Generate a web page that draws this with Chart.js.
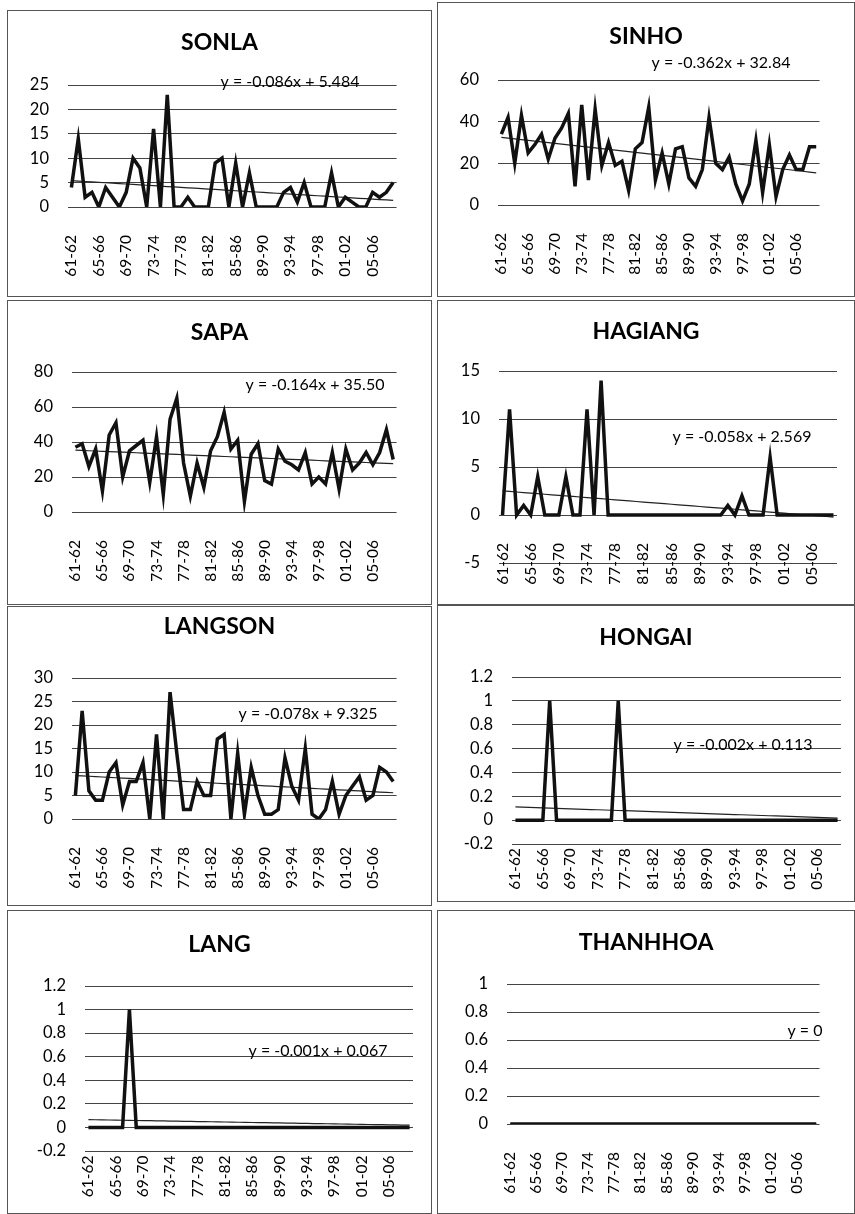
<!DOCTYPE html>
<html>
<head>
<meta charset="utf-8">
<script src="https://cdn.jsdelivr.net/npm/chart.js@4.4.1/dist/chart.umd.min.js"></script>
<style>
    body { margin: 0; background: #fff; }
    #page { position: relative; width: 855px; height: 1214px; overflow: hidden; }
    .panel { position: absolute; box-shadow: inset 0 0 0 1px #555; }
    .panel canvas { position: absolute; left: 0; top: 0; }
</style>
</head>
<body>
<div id="page"></div>
<script>
// seasons on the category axis
const seasons = ['61-62','62-63','63-64','64-65','65-66','66-67','67-68','68-69','69-70','70-71',
    '71-72','72-73','73-74','74-75','75-76','76-77','77-78','78-79','79-80','80-81',
    '81-82','82-83','83-84','84-85','85-86','86-87','87-88','88-89','89-90','90-91',
    '91-92','92-93','93-94','94-95','95-96','96-97','97-98','98-99','99-00','00-01',
    '01-02','02-03','03-04','04-05','05-06','06-07','07-08','08-09'];

const stations = ['SONLA', 'SINHO', 'SAPA', 'HAGIANG', 'LANGSON', 'HONGAI', 'LANG', 'THANHHOA'];

const sonla = [4,14,2,3,0,4,2,0,3,10,8,0,16,0,23,0,0,2,0,0,0,9,10,0,9,0,7,0,0,0,0,3,4,1,5,0,0,0,7,0,2,1,0,0,3,2,3,5];
const sinho = [34,42,20,43,25,29,34,22,32,37,44,9,48,12,46,19,30,19,21,7,27,30,47,12,25,10,27,28,13,9,17,42,20,17,23,10,2,10,31,6,29,4,17,24,17,17,28,28];
const sapa = [37,39,26,36,12,44,51,20,35,38,41,17,43,10,53,65,28,9,28,14,35,43,57,36,41,6,33,39,18,16,36,29,27,24,34,16,20,16,34,13,36,24,28,34,27,34,47,30];
const hagiang = [0,11,0,1,0,4,0,0,0,4,0,0,11,0,14,0,0,0,0,0,0,0,0,0,0,0,0,0,0,0,0,0,1,0,2,0,0,0,6,0,0,0,0,0,0,0,0,0];
const langson = [5,23,6,4,4,10,12,3,8,8,12,0,18,0,27,14,2,2,8,5,5,17,18,0,14,1,11,5,1,1,2,13,7,4,15,1,0,2,8,1,5,7,9,4,5,11,10,8];
const hongai = [0,0,0,0,0,1,0,0,0,0,0,0,0,0,0,1,0,0,0,0,0,0,0,0,0,0,0,0,0,0,0,0,0,0,0,0,0,0,0,0,0,0,0,0,0,0,0,0];
const lang = [0,0,0,0,0,0,1,0,0,0,0,0,0,0,0,0,0,0,0,0,0,0,0,0,0,0,0,0,0,0,0,0,0,0,0,0,0,0,0,0,0,0,0,0,0,0,0,0];
const thanhhoa = [0,0,0,0,0,0,0,0,0,0,0,0,0,0,0,0,0,0,0,0,0,0,0,0,0,0,0,0,0,0,0,0,0,0,0,0,0,0,0,0,0,0,0,0,0,0,0,0];
const seriesList = [sonla, sinho, sapa, hagiang, langson, hongai, lang, thanhhoa];

// linear trend lines, as printed on each chart
const slopes = [-0.086, -0.362, -0.164, -0.058, -0.078, -0.002, -0.001, 0];
const intercepts = [5.484, 32.84, 35.50, 2.569, 9.325, 0.113, 0.067, 0];
const equations = ['y = -0.086x + 5.484', 'y = -0.362x + 32.84', 'y = -0.164x + 35.50', 'y = -0.058x + 2.569',
    'y = -0.078x + 9.325', 'y = -0.002x + 0.113', 'y = -0.001x + 0.067', 'y = 0'];

// y tick labels of each chart
const yTicks = [
    [0, 5, 10, 15, 20, 25],
    [0, 20, 40, 60],
    [0, 20, 40, 60, 80],
    [-5, 0, 5, 10, 15],
    [0, 5, 10, 15, 20, 25, 30],
    [-0.2, 0, 0.2, 0.4, 0.6, 0.8, 1, 1.2],
    [-0.2, 0, 0.2, 0.4, 0.6, 0.8, 1, 1.2],
    [0, 0.2, 0.4, 0.6, 0.8, 1]
];

// panel boxes and plot-area edges (pixels, plot edges relative to the panel)
const frames = [
    { left: 7,   top: 10,  w: 425, h: 287, l: 61, r: 402, t: 75, b: 197, titleY: 33, eqX: 283, eqY: 72 },
    { left: 437, top: 2,   w: 418, h: 295, l: 61, r: 400, t: 78, b: 203, titleY: 35, eqX: 284, eqY: 61 },
    { left: 7,   top: 300, w: 425, h: 305, l: 65, r: 404, t: 72, b: 212, titleY: 33, eqX: 308, eqY: 85 },
    { left: 437, top: 300, w: 418, h: 305, l: 62, r: 400, t: 71, b: 263, titleY: 32, eqX: 305, eqY: 137 },
    { left: 7,   top: 606, w: 425, h: 300, l: 65, r: 405, t: 72, b: 213, titleY: 21, eqX: 301, eqY: 108 },
    { left: 437, top: 605, w: 418, h: 297, l: 75, r: 404, t: 72, b: 239, titleY: 33, eqX: 306, eqY: 140 },
    { left: 7,   top: 910, w: 425, h: 304, l: 78, r: 406, t: 76, b: 241, titleY: 35, eqX: 311, eqY: 141 },
    { left: 437, top: 910, w: 418, h: 304, l: 70, r: 406, t: 74, b: 214, titleY: 33, eqX: 368, eqY: 121 }
];

const FONT = 'Lato, "Open Sans", sans-serif';
const TITLE_SIZE = 23;
const LABEL_GAP = 20;   // gap between the zero line and the season labels

const equationLabel = {
    id: 'equationLabel',
    afterDatasetsDraw(chart, args, opts) {
        const ctx = chart.ctx;
        ctx.save();
        ctx.font = '16px ' + FONT;
        ctx.fillStyle = '#000';
        ctx.textAlign = 'center';
        ctx.textBaseline = 'middle';
        ctx.fillText(opts.text, opts.x, opts.y);
        ctx.restore();
    }
};

document.addEventListener('DOMContentLoaded', () => {
    const page = document.getElementById('page');

    stations.forEach((name, i) => {
        const f = frames[i];
        const ticks = yTicks[i];
        const yMin = ticks[0];
        const yMax = ticks[ticks.length - 1];
        const pad = f.w - f.r;
        // labels hang from the zero line, so they cross the negative band
        const zeroY = f.b - (0 - yMin) / (yMax - yMin) * (f.b - f.t);
        const labelPad = LABEL_GAP - (f.b - zeroY);

        const panel = document.createElement('div');
        panel.className = 'panel';
        panel.style.left = f.left + 'px';
        panel.style.top = f.top + 'px';
        panel.style.width = f.w + 'px';
        panel.style.height = f.h + 'px';
        const canvas = document.createElement('canvas');
        canvas.width = f.w;
        canvas.height = f.h;
        panel.appendChild(canvas);
        page.appendChild(panel);

        const trend = seasons.map((s, k) => slopes[i] * (k + 1) + intercepts[i]);

        new Chart(canvas, {
            type: 'line',
            data: {
                labels: seasons,
                datasets: [
                    {
                        data: seriesList[i],
                        borderColor: '#111',
                        borderWidth: 3.5,
                        pointRadius: 0,
                        tension: 0,
                        clip: 0
                    },
                    {
                        data: trend,
                        borderColor: '#222',
                        borderWidth: 1.2,
                        pointRadius: 0,
                        tension: 0,
                        clip: 0
                    }
                ]
            },
            options: {
                responsive: false,
                animation: false,
                layout: { padding: { left: pad, right: pad, top: 0, bottom: 0 } },
                plugins: {
                    legend: { display: false },
                    tooltip: { enabled: false },
                    title: {
                        display: true,
                        text: name,
                        color: '#000',
                        font: { family: FONT, size: TITLE_SIZE, weight: 'bold', lineHeight: 1.2 },
                        padding: {
                            top: f.titleY - TITLE_SIZE * 0.6,
                            bottom: f.t - f.titleY - TITLE_SIZE * 0.6
                        }
                    },
                    equationLabel: { text: equations[i], x: f.eqX, y: f.eqY }
                },
                scales: {
                    x: {
                        offset: true,
                        grid: { display: false },
                        border: { display: false },
                        ticks: {
                            autoSkip: false,
                            minRotation: 90,
                            maxRotation: 90,
                            padding: labelPad,
                            color: '#000',
                            font: { family: FONT, size: 15.5 },
                            callback: function (value, index) {
                                return index % 4 === 0 ? this.getLabelForValue(value) : '';
                            }
                        },
                        afterFit: s => {
                            s.height = f.h - f.b;
                            // let labels reach up into the plot (they start at the zero line)
                            s._computeLabelArea = () => undefined;
                        }
                    },
                    y: {
                        min: yMin,
                        max: yMax,
                        grid: { color: '#444', lineWidth: 1, drawTicks: false },
                        border: { display: false },
                        ticks: {
                            stepSize: ticks[1] - ticks[0],
                            padding: 19,
                            color: '#000',
                            font: { family: FONT, size: 16.5 },
                            callback: v => String(Math.round(v * 100) / 100)
                        },
                        afterFit: s => { s.width = f.l - pad; }
                    }
                }
            },
            plugins: [equationLabel]
        });
    });
});
</script>
</body>
</html>
